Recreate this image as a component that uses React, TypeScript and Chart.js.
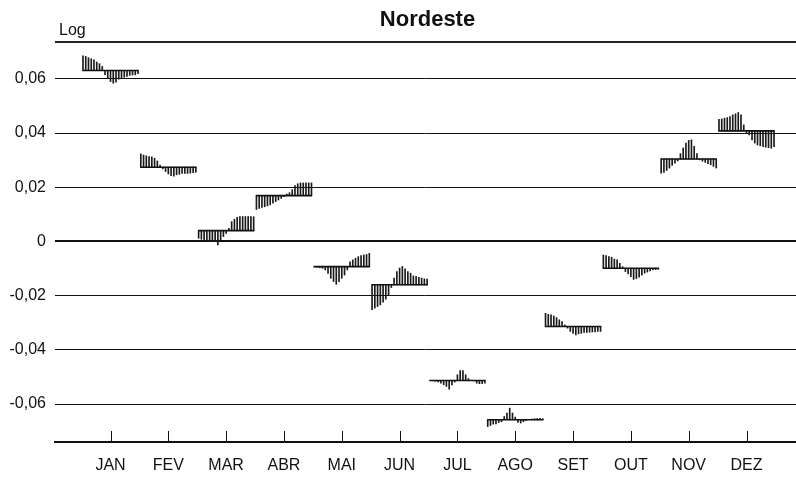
import React, { useEffect, useRef } from 'react';
import { Chart, registerables } from 'chart.js';

Chart.register(...registerables);

const months = ['JAN', 'FEV', 'MAR', 'ABR', 'MAI', 'JUN', 'JUL', 'AGO', 'SET', 'OUT', 'NOV', 'DEZ'];
const yTicks = [-0.06, -0.04, -0.02, 0, 0.02, 0.04, 0.06];

// Monthly means (log)
const monthMeans = [0.0631, 0.0274, 0.0040, 0.0169, -0.0093, -0.0160, -0.0513, -0.0658, -0.0314, -0.0099, 0.0304, 0.0408];

// Deviations of each year from the monthly mean (log)
const janDev = [0.0054, 0.0052, 0.0047, 0.0043, 0.0039, 0.0031, 0.0025, 0.0015, -0.0016, -0.0028, -0.0041, -0.0047, -0.0043, -0.0032, -0.0028, -0.0025, -0.0022, -0.0018, -0.0017, -0.0016, -0.0012];
const fevDev = [0.0049, 0.0045, 0.0042, 0.0039, 0.0038, 0.0033, 0.0023, 0.0008, -0.0006, -0.0016, -0.0025, -0.0031, -0.0033, -0.0028, -0.0026, -0.0023, -0.0023, -0.0023, -0.0022, -0.0020, -0.0018];
const marDev = [-0.0028, -0.0032, -0.0034, -0.0037, -0.0038, -0.0041, -0.0041, -0.0053, -0.0034, -0.0022, -0.0010, 0.0008, 0.0033, 0.0042, 0.0049, 0.0052, 0.0052, 0.0052, 0.0052, 0.0052, 0.0051];
const abrDev = [-0.0051, -0.0047, -0.0043, -0.0041, -0.0038, -0.0034, -0.0028, -0.0022, -0.0016, -0.0010, -0.0004, 0.0006, 0.0011, 0.0022, 0.0037, 0.0044, 0.0047, 0.0047, 0.0047, 0.0047, 0.0047];
const maiDev = [-0.0001, -0.0002, -0.0004, -0.0006, -0.0012, -0.0025, -0.0043, -0.0055, -0.0065, -0.0055, -0.0043, -0.0031, -0.0012, 0.0018, 0.0025, 0.0031, 0.0037, 0.0041, 0.0043, 0.0045, 0.0049];
const junDev = [-0.0092, -0.0086, -0.0080, -0.0074, -0.0064, -0.0053, -0.0037, -0.0010, 0.0025, 0.0049, 0.0062, 0.0068, 0.0059, 0.0049, 0.0043, 0.0033, 0.0031, 0.0028, 0.0025, 0.0022, 0.0021];
const julDev = [0.0000, -0.0001, -0.0003, -0.0005, -0.0010, -0.0016, -0.0022, -0.0032, -0.0016, -0.0006, 0.0021, 0.0037, 0.0037, 0.0021, 0.0007, 0.0001, -0.0002, -0.0010, -0.0012, -0.0012, -0.0010];
const agoDev = [-0.0025, -0.0021, -0.0016, -0.0015, -0.0010, -0.0007, 0.0012, 0.0025, 0.0043, 0.0025, 0.0010, -0.0010, -0.0012, -0.0007, -0.0003, 0.0001, 0.0003, 0.0004, 0.0005, 0.0005, 0.0004];
const setDev = [0.0049, 0.0045, 0.0043, 0.0039, 0.0033, 0.0025, 0.0018, 0.0006, -0.0006, -0.0018, -0.0025, -0.0031, -0.0027, -0.0025, -0.0022, -0.0022, -0.0021, -0.0020, -0.0020, -0.0018, -0.0018];
const outDev = [0.0049, 0.0047, 0.0043, 0.0041, 0.0034, 0.0031, 0.0018, 0.0006, -0.0012, -0.0021, -0.0031, -0.0041, -0.0038, -0.0033, -0.0025, -0.0018, -0.0014, -0.0010, -0.0006, -0.0005, -0.0004];
const novDev = [-0.0052, -0.0049, -0.0042, -0.0033, -0.0023, -0.0015, -0.0007, 0.0020, 0.0041, 0.0059, 0.0069, 0.0071, 0.0047, 0.0020, -0.0003, -0.0008, -0.0012, -0.0017, -0.0021, -0.0027, -0.0033];
const dezDev = [0.0043, 0.0044, 0.0047, 0.0049, 0.0053, 0.0059, 0.0063, 0.0068, 0.0059, 0.0022, -0.0008, -0.0015, -0.0033, -0.0045, -0.0052, -0.0055, -0.0058, -0.0060, -0.0062, -0.0064, -0.0058];

const FONT = "'Liberation Sans', Arial, Helvetica, sans-serif";
const HALF = 0.476; // half width of each monthly sub-series, in month units

const decor = {
  id: 'decor',
  afterDraw(chart: any) {
    const { ctx, chartArea, scales } = chart;
    const x = scales.x;
    ctx.save();
    ctx.strokeStyle = '#222';
    ctx.lineWidth = 2;
    ctx.beginPath();
    ctx.moveTo(chartArea.left, chartArea.top);
    ctx.lineTo(chartArea.right, chartArea.top);
    ctx.stroke();
    ctx.lineWidth = 1;
    ctx.strokeStyle = '#111';
    ctx.beginPath();
    months.forEach((_, i) => {
      const px = Math.round(x.getPixelForValue(i)) + 0.5;
      ctx.moveTo(px, chartArea.bottom - 11);
      ctx.lineTo(px, chartArea.bottom);
    });
    ctx.stroke();
    ctx.fillStyle = '#111';
    ctx.textAlign = 'center';
    ctx.textBaseline = 'alphabetic';
    ctx.font = `bold 22px ${FONT}`;
    ctx.fillText('Nordeste', (chartArea.left + chartArea.right) / 2 + 2, 26);
    ctx.textAlign = 'left';
    ctx.font = `16px ${FONT}`;
    ctx.fillText('Log', 59, 35);
    ctx.restore();
  },
};

export default function App() {
  const ref = useRef<HTMLCanvasElement>(null);

  useEffect(() => {
    if (!ref.current) return;
    const devs = [janDev, fevDev, marDev, abrDev, maiDev, junDev, julDev, agoDev, setDev, outDev, novDev, dezDev];
    const barData: any[] = [];
    const lineData: any[] = [];
    devs.forEach((arr, m) => {
      const n = arr.length;
      const mean = monthMeans[m];
      arr.forEach((d, j) => {
        const xv = m - HALF + (2 * HALF * j) / (n - 1);
        barData.push({ x: xv, y: [mean, mean + d] });
      });
      lineData.push({ x: m - HALF - 0.01, y: mean });
      lineData.push({ x: m + HALF + 0.01, y: mean });
      lineData.push({ x: m + 0.5, y: null });
    });

    const chart = new Chart(ref.current, {
      type: 'bar',
      data: {
        datasets: [
          {
            type: 'bar',
            data: barData,
            backgroundColor: '#1a1a1a',
            borderWidth: 0,
            barThickness: 1,
            order: 2,
          } as any,
          {
            type: 'line',
            data: lineData,
            borderColor: '#111',
            borderWidth: 1.6,
            pointRadius: 0,
            spanGaps: false,
            order: 1,
          } as any,
        ],
      },
      options: {
        animation: false,
        responsive: false,
        devicePixelRatio: 1,
        layout: { padding: { top: 42, left: 0, right: 0, bottom: 0 } },
        plugins: {
          legend: { display: false },
          tooltip: { enabled: false },
          title: { display: false },
        },
        scales: {
          x: {
            type: 'linear',
            min: -0.96,
            max: 11.856,
            offset: false,
            afterBuildTicks: (s: any) => {
              s.ticks = months.map((_, i) => ({ value: i }));
            },
            afterFit: (s: any) => {
              s.height = 37;
            },
            ticks: {
              callback: (v: any) => months[Math.round(Number(v))],
              color: '#111',
              font: { family: FONT, size: 16 },
              padding: 14,
              autoSkip: false,
              maxRotation: 0,
            },
            grid: { display: false, drawTicks: false },
            border: { display: true, color: '#111', width: 2 },
          },
          y: {
            type: 'linear',
            min: -0.074,
            max: 0.0736,
            afterBuildTicks: (s: any) => {
              s.ticks = yTicks.map((v) => ({ value: v }));
            },
            afterFit: (s: any) => {
              s.width = 55;
            },
            ticks: {
              callback: (v: any) => (Number(v) === 0 ? '0' : Number(v).toFixed(2).replace('.', ',')),
              color: '#111',
              font: { family: FONT, size: 16 },
              padding: 9,
            },
            grid: {
              color: '#111',
              lineWidth: (c: any) => (c.tick && Math.abs(c.tick.value) < 1e-9 ? 2 : 1),
              drawTicks: false,
            },
            border: { display: false },
          },
        },
      } as any,
      plugins: [decor],
    });
    return () => chart.destroy();
  }, []);

  return (
    <div style={{ position: 'fixed', left: 0, top: 0, width: 796, height: 479, background: '#fff' }}>
      <canvas ref={ref} width={796} height={479} style={{ width: 796, height: 479, display: 'block' }} />
    </div>
  );
}
